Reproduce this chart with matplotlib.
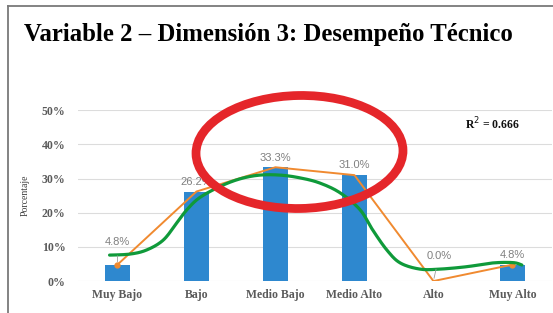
import numpy as np
import matplotlib
matplotlib.use("Agg")
import matplotlib.pyplot as plt
from matplotlib.patches import Ellipse
from matplotlib.lines import Line2D

categorias = ["Muy Bajo", "Bajo", "Medio Bajo", "Medio Alto", "Alto", "Muy Alto"]
porcentajes = [4.8, 26.2, 33.3, 31.0, 0.0, 4.8]
etiquetas = ["4.8%", "26.2%", "33.3%", "31.0%", "0.0%", "4.8%"]

# tendencia (curva verde): posicion en categorias, valor %
tend_x = [-0.1, 0.16, 0.37, 0.58, 0.75, 0.88, 1.04, 1.30, 1.55, 1.80, 2.06,
          2.31, 2.56, 2.82, 3.07, 3.23, 3.41, 3.58, 3.83, 4.08, 4.42, 4.75,
          5.01, 5.12]
tend_y = [7.6, 7.9, 9.1, 12.0, 17.0, 20.9, 24.4, 27.7, 29.9, 31.0, 31.0,
          30.2, 28.7, 25.8, 20.9, 15.0, 9.1, 5.3, 3.5, 3.5, 4.2, 5.3,
          5.4, 4.7]
r2 = 0.666


def suavizar(xs, ys, n=16):
    # curva Catmull-Rom por los puntos leidos
    p = np.column_stack([xs, ys])
    p = np.vstack([p[0], p, p[-1]])
    out = []
    t = np.linspace(0, 1, n, endpoint=False)[:, None]
    for i in range(1, len(p) - 2):
        p0, p1, p2, p3 = p[i - 1], p[i], p[i + 1], p[i + 2]
        seg = 0.5 * ((2 * p1) + (-p0 + p2) * t + (2 * p0 - 5 * p1 + 4 * p2 - p3) * t ** 2
                     + (-p0 + 3 * p1 - 3 * p2 + p3) * t ** 3)
        out.append(seg)
    out.append(p[-2][None, :])
    out = np.vstack(out)
    return out[:, 0], out[:, 1]


fig = plt.figure(figsize=(5.53, 3.13), dpi=100)
ax = fig.add_axes([0.141, 0.102, 0.857, 0.546])

x = np.arange(len(categorias))
vals = np.array(porcentajes) / 100

ax.bar(x, vals, width=0.32, color="#2E88CF", zorder=2)
ax.plot(x, vals, color="#F08A30", lw=1.4, marker="o", ms=3.5,
        markevery=[0, 5], zorder=3)
gx, gy = suavizar(tend_x, tend_y)
ax.plot(gx, gy / 100, color="#0F9A3A", lw=2.3, zorder=4, solid_capstyle="round")

ax.set_xlim(-0.5, 5.5)
ax.set_ylim(0, 0.5)
ax.set_yticks(np.arange(0, 0.51, 0.1))
ax.set_yticklabels([f"{int(v * 100)}%" for v in np.arange(0, 0.51, 0.1)])
ax.set_xticks(x)
ax.set_xticklabels(categorias)
ax.grid(axis="y", color="#dcdcdc", lw=0.8, zorder=0)
ax.set_axisbelow(True)
for s in ax.spines.values():
    s.set_visible(False)
ax.tick_params(length=0)
ax.tick_params(axis="x", pad=6)
ax.tick_params(axis="y", pad=9)
for lab in ax.get_xticklabels() + ax.get_yticklabels():
    lab.set_family("Liberation Serif")
    lab.set_weight("bold")
    lab.set_color("#5a5a5a")
    lab.set_fontsize(8.5)
ax.set_ylabel("Porcentaje", family="Liberation Serif", fontsize=7,
              color="#404040", labelpad=9)

# etiquetas de datos (desplazamiento en puntos)
offs = [(0, 16), (0, 7), (0, 7), (0, 7), (4, 18), (0, 7)]
lider = [True, False, False, False, True, False]
for i, (v, t) in enumerate(zip(vals, etiquetas)):
    ax.annotate(t, (i, v), xytext=offs[i], textcoords="offset points",
                ha="center", va="center", fontsize=8, color="#808080",
                family="Liberation Sans", zorder=5,
                arrowprops=dict(arrowstyle="-", color="#9a9a9a", lw=0.6,
                                shrinkA=4, shrinkB=2) if lider[i] else None)

ax.text(0.875, 0.92, "R$^2$ = " + f"{r2:.3f}", transform=ax.transAxes,
        family="Liberation Serif", weight="bold", fontsize=8.5, ha="center",
        va="center", color="#111111")

fig.text(0.485, 1 - 34 / 313, "Variable 2 \u2013 Dimensi\u00f3n 3: Desempe\u00f1o T\u00e9cnico",
         family="Liberation Serif", weight="bold", fontsize=17.8,
         ha="center", va="center", color="black")

# marco de la imagen
fig.add_artist(Line2D([8 / 553, 8 / 553], [0, 1 - 6 / 313], color="#7a7a7a",
                      lw=1.3, transform=fig.transFigure))
fig.add_artist(Line2D([8 / 553, 1], [1 - 6 / 313, 1 - 6 / 313], color="#7a7a7a",
                      lw=1.3, transform=fig.transFigure))

# ovalo rojo
fig.add_artist(Ellipse((2.995, 1.61), 2.07, 1.13, angle=1, fill=False,
                       ec="#E5262A", lw=6.3, transform=fig.dpi_scale_trans,
                       zorder=10))

fig.savefig("out.png", dpi=100)
